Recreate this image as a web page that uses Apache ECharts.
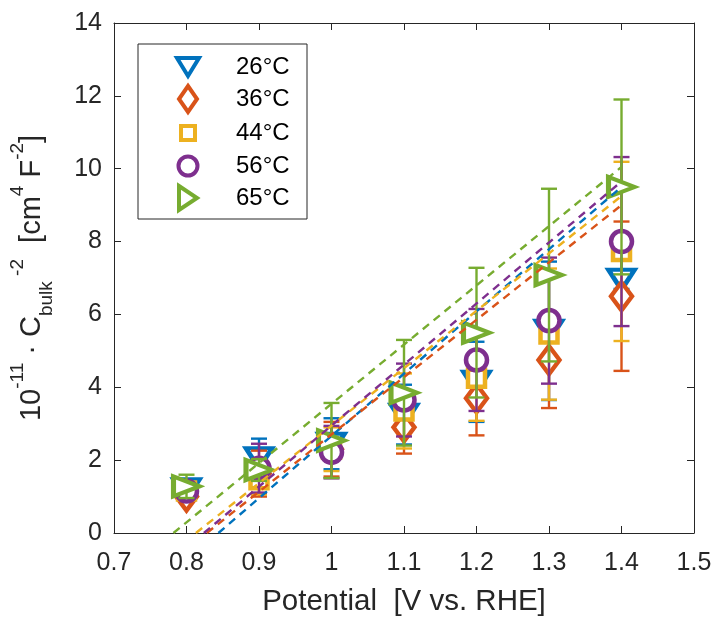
<!DOCTYPE html>
<html>
<head>
<meta charset="utf-8">
<script src="https://cdn.jsdelivr.net/npm/echarts@6/dist/echarts.min.js"></script>
<style>html,body{margin:0;padding:0;background:#fff}#c{width:715px;height:622px}</style>
</head>
<body>
<div id="c"></div>
<script>
const potentials = [0.8, 0.9, 1.0, 1.1, 1.2, 1.3, 1.4];
const names = ['26°C', '36°C', '44°C', '56°C', '65°C'];
const t26 = [1.2, 2.05, 2.45, 3.25, 4.15, 5.55, 6.95];
const e26 = [0.1, 0.54, 0.7, 0.82, 1.1, 1.9, 0.25];
const t36 = [1.0, 1.63, 2.3, 2.9, 3.7, 4.75, 6.5];
const e36 = [0.1, 0.63, 0.75, 0.72, 1.02, 1.32, 2.05];
const t44 = [1.15, 1.46, 2.3, 3.35, 4.25, 5.46, 7.73];
const e44 = [0.1, 0.4, 0.6, 1.03, 1.17, 1.8, 2.46];
const t56 = [1.15, 1.78, 2.22, 3.65, 4.75, 5.83, 8.0];
const e56 = [0.1, 0.67, 0.72, 1.0, 1.4, 1.73, 2.32];
const t65 = [1.28, 1.73, 2.54, 3.85, 5.5, 7.08, 9.5];
const e65 = [0.32, 0.3, 1.03, 1.45, 1.78, 2.37, 2.4];
// linear fits: x-intercept and value at 1.4 V
const fitStartX = [0.844, 0.828, 0.813, 0.824, 0.782];
const fitEndX = 1.4;
const fitEndY = [9.5, 9.0, 9.25, 9.65, 10.05];
const xTicks = [0.7, 0.8, 0.9, 1.0, 1.1, 1.2, 1.3, 1.4, 1.5];
const yTicks = [0, 2, 4, 6, 8, 10, 12, 14];

const colors = ['#0072BD', '#D95319', '#EDB120', '#7E2F8E', '#77AC30'];
const symbols = ['triangle', 'diamond', 'rect', 'circle', 'triangle'];
const rotates = [180, 0, 0, 0, -90];
const sizes = [[26, 20], [21, 28], [17, 17], [21, 21], [20, 26]];
const legendSizes = [[22, 18], [18, 26], [14, 14], [19, 19], [18, 24]];
const values = [t26, t36, t44, t56, t65];
const errs = [e26, e36, e44, e56, e65];

const FONT = 'Liberation Sans, Arial, sans-serif';
const axisColor = '#262626';
const series = [];
values.forEach((vals, i) => {
  series.push({
    type: 'custom',
    name: names[i] + ' err',
    data: potentials.map((x, k) => [x, vals[k], errs[i][k]]),
    encode: {x: 0, y: 1},
    z: 2 + i * 2,
    silent: true,
    renderItem: function (params, api) {
      const x = api.value(0), y = api.value(1), e = api.value(2);
      const top = api.coord([x, y + e]);
      const bot = api.coord([x, y - e]);
      const hw = 8;
      const st = {stroke: colors[i], lineWidth: 2.4};
      return {
        type: 'group',
        children: [
          {type: 'line', shape: {x1: top[0], y1: top[1], x2: bot[0], y2: bot[1]}, style: st},
          {type: 'line', shape: {x1: top[0] - hw, y1: top[1], x2: top[0] + hw, y2: top[1]}, style: st},
          {type: 'line', shape: {x1: bot[0] - hw, y1: bot[1], x2: bot[0] + hw, y2: bot[1]}, style: st}
        ]
      };
    }
  });
  series.push({
    type: 'scatter',
    name: names[i],
    data: potentials.map((x, k) => [x, vals[k]]),
    symbol: symbols[i],
    symbolRotate: rotates[i],
    symbolSize: sizes[i],
    z: 3 + i * 2,
    itemStyle: {color: '#ffffff', borderColor: colors[i], borderWidth: 4.5, opacity: 1}
  });
});
fitStartX.forEach((x0, i) => {
  series.push({
    type: 'line',
    name: names[i] + ' fit',
    data: [[x0, 0], [fitEndX, fitEndY[i]]],
    showSymbol: false,
    symbol: 'none',
    z: 20,
    silent: true,
    lineStyle: {color: colors[i], width: 2.4, type: [8, 6]}
  });
});

// legend drawn as graphic: box, marker glyphs, real text
const legendLeft = 138, legendTop = 44, legendW = 169, legendH = 175;
const rowY = [67, 99, 133, 166, 198];
const legendChildren = [{
  type: 'rect', shape: {x: legendLeft, y: legendTop, width: legendW, height: legendH},
  style: {fill: '#fff', stroke: axisColor, lineWidth: 1}
}];
function legendShape(i, cx, cy) {
  const [w, h] = legendSizes[i];
  const st = {fill: '#fff', stroke: colors[i], lineWidth: 4};
  if (i === 0) return {type: 'polygon', shape: {points: [[cx - w / 2, cy - h / 2], [cx + w / 2, cy - h / 2], [cx, cy + h / 2]]}, style: st};
  if (i === 1) return {type: 'polygon', shape: {points: [[cx, cy - h / 2], [cx + w / 2, cy], [cx, cy + h / 2], [cx - w / 2, cy]]}, style: st};
  if (i === 2) return {type: 'rect', shape: {x: cx - w / 2, y: cy - h / 2, width: w, height: h}, style: st};
  if (i === 3) return {type: 'circle', shape: {cx: cx, cy: cy, r: w / 2}, style: st};
  return {type: 'polygon', shape: {points: [[cx - w / 2, cy - h / 2], [cx + w / 2, cy], [cx - w / 2, cy + h / 2]]}, style: st};
}
names.forEach((n, i) => {
  legendChildren.push(legendShape(i, 188, rowY[i]));
  legendChildren.push({
    type: 'text', x: 236, y: rowY[i],
    style: {text: n, fill: '#000', font: '24px ' + FONT, textVerticalAlign: 'middle', verticalAlign: 'middle'}
  });
});

const fmtX = v => String(+(+v).toFixed(1));
const option = {
  animation: false,
  backgroundColor: '#ffffff',
  grid: {left: 114, right: 21, top: 23, bottom: 82, containLabel: false},
  graphic: [{type: 'group', z: 100, children: legendChildren}],
  xAxis: [{
    type: 'value', min: 0.7, max: 1.5, interval: 0.1,
    name: 'Potential  [V vs. RHE]', nameLocation: 'middle', nameGap: 54,
    nameTextStyle: {fontSize: 29.5, color: axisColor, fontFamily: FONT},
    axisLine: {lineStyle: {color: axisColor, width: 1}},
    axisTick: {inside: true, length: 7, lineStyle: {color: axisColor}},
    axisLabel: {fontSize: 25, color: axisColor, margin: 18, formatter: fmtX, fontFamily: FONT},
    splitLine: {show: false}
  }, {
    type: 'value', min: 0.7, max: 1.5, interval: 0.1, position: 'top',
    axisLine: {onZero: false, lineStyle: {color: axisColor, width: 1}},
    axisTick: {inside: true, length: 7, lineStyle: {color: axisColor}},
    axisLabel: {show: false}, splitLine: {show: false}
  }],
  yAxis: [{
    type: 'value', min: 0, max: 14, interval: 2,
    name: '{n|10}{sup|-11}{n| · C}{sub|bulk}{sup| -2}{n|  [cm}{sup|4}{n| F}{sup|-2}{n|]}',
    nameLocation: 'middle', nameGap: 58, nameRotate: 90,
    nameTextStyle: {
      color: axisColor, fontFamily: FONT,
      rich: {
        n: {fontSize: 29, lineHeight: 48, color: axisColor, fontFamily: FONT, verticalAlign: 'middle'},
        sup: {fontSize: 19, lineHeight: 19, color: axisColor, fontFamily: FONT, verticalAlign: 'top'},
        sub: {fontSize: 19, lineHeight: 19, color: axisColor, fontFamily: FONT, verticalAlign: 'bottom'}
      }
    },
    axisLine: {show: true, lineStyle: {color: axisColor, width: 1}},
    axisTick: {show: true, inside: true, length: 7, lineStyle: {color: axisColor}},
    axisLabel: {fontSize: 25, color: axisColor, margin: 12, fontFamily: FONT},
    splitLine: {show: false}
  }, {
    type: 'value', min: 0, max: 14, interval: 2, position: 'right',
    axisLine: {show: true, onZero: false, lineStyle: {color: axisColor, width: 1}},
    axisTick: {show: true, inside: true, length: 7, lineStyle: {color: axisColor}},
    axisLabel: {show: false}, splitLine: {show: false}
  }],
  series: series
};
const chart = echarts.init(document.getElementById('c'), null, {renderer: 'canvas'});
chart.setOption(option);
</script>
</body>
</html>
